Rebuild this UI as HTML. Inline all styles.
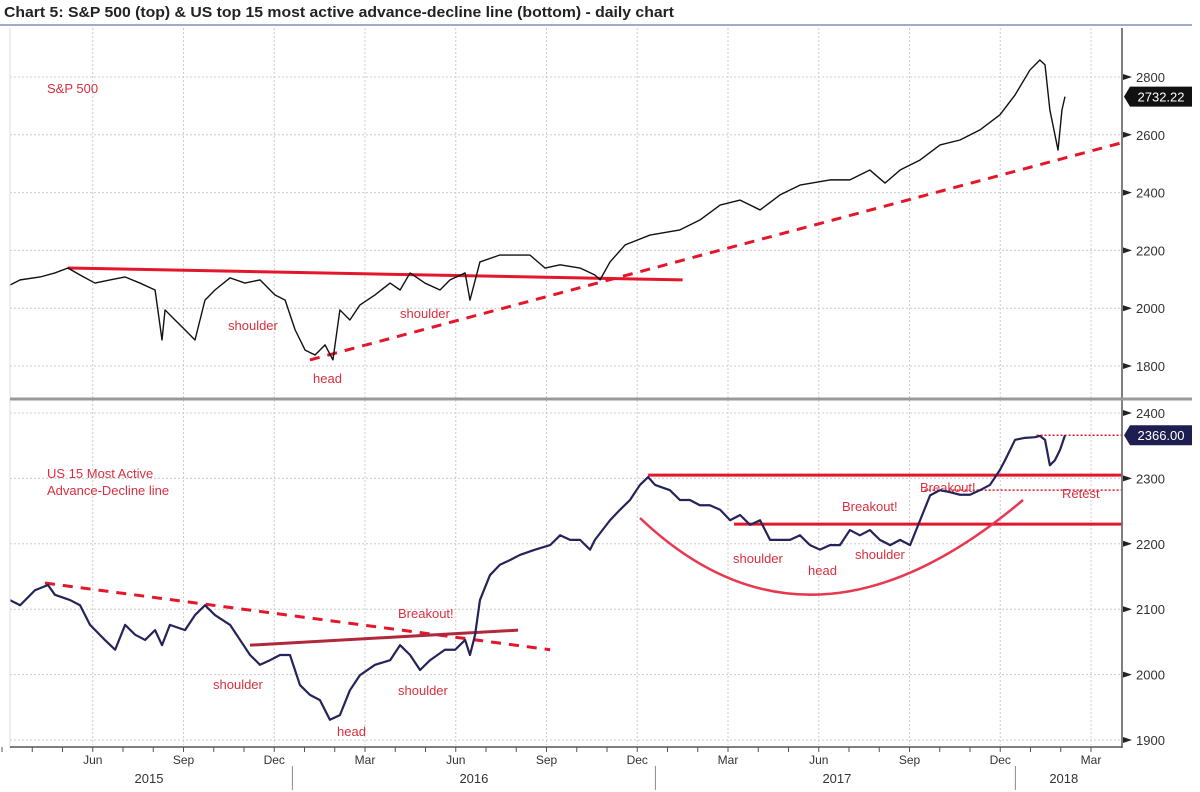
<!DOCTYPE html>
<html><head><meta charset="utf-8"><style>
body{margin:0;background:#fff;font-family:"Liberation Sans",sans-serif}
svg{display:block}
</style></head><body>
<svg id="c" width="1200" height="792" xmlns="http://www.w3.org/2000/svg">
<text x="4" y="17" font-size="15" font-weight="bold" fill="#222" textLength="670" lengthAdjust="spacingAndGlyphs">Chart 5: S&amp;P 500 (top) &amp; US top 15 most active advance-decline line (bottom) - daily chart</text>
<line x1="0" y1="25" x2="1192" y2="25" stroke="#8090b0" stroke-width="1.5"/>
<g id="grid"></g><g id="ann"></g><g id="series"></g><g id="axes"></g>
</svg>
<script>
// months since 1 Mar 2015
const spxMonths=[0.26,0.6,1.26,1.75,2.18,2.58,3.07,3.57,4.07,4.56,5.06,5.29,5.39,5.72,6.05,6.38,6.71,7.04,7.54,8.03,8.53,9.02,9.36,9.69,10.02,10.35,10.68,10.94,11.17,11.5,11.83,12.33,12.83,13.16,13.49,13.98,14.48,14.81,15.31,15.47,15.8,16.46,17.45,17.95,18.45,19.11,19.6,19.77,20.1,20.6,21.42,22.41,23.07,23.74,24.4,25.06,25.72,26.38,27.37,28.03,28.69,29.19,29.69,30.35,31.01,31.67,32.33,32.99,33.49,33.98,34.31,34.48,34.64,34.81,34.91,35.04,35.14];
const spxValues=[2080,2098,2108,2122,2139,2115,2087,2098,2108,2087,2063,1890,1994,1959,1925,1890,2028,2063,2105,2087,2098,2046,2028,1925,1855,1838,1873,1821,1994,1959,2011,2046,2087,2063,2122,2087,2063,2098,2122,2028,2160,2184,2184,2139,2150,2139,2115,2098,2160,2219,2253,2271,2305,2357,2374,2340,2392,2426,2444,2444,2478,2433,2478,2513,2565,2582,2617,2669,2738,2824,2859,2842,2686,2599,2547,2686,2732];
const adMonths=[0.26,0.6,1.09,1.52,1.75,2.25,2.58,2.91,3.4,3.74,4.07,4.4,4.73,5.06,5.29,5.55,6.05,6.38,6.71,7.04,7.54,7.87,8.2,8.53,8.86,9.19,9.52,9.85,10.18,10.51,10.84,11.17,11.5,11.83,12.33,12.83,13.16,13.49,13.82,14.15,14.64,14.98,15.31,15.47,15.64,15.8,16.13,16.46,16.79,17.12,17.62,18.12,18.45,18.78,19.11,19.44,19.6,20.1,20.43,20.76,21.09,21.36,21.59,22.08,22.41,22.74,23.07,23.4,23.74,24.07,24.4,24.73,25.06,25.39,25.72,26.05,26.38,26.71,27.04,27.37,27.7,28.03,28.36,28.69,29.02,29.36,29.69,30.02,30.35,30.68,31.01,31.34,31.67,32.0,32.33,32.66,32.99,33.16,33.49,33.82,34.15,34.31,34.48,34.64,34.81,34.98,35.14];
const adValues=[2114,2106,2129,2137,2122,2114,2106,2076,2053,2038,2076,2061,2053,2068,2045,2076,2068,2091,2106,2091,2076,2053,2030,2015,2022,2030,2030,1984,1969,1961,1931,1938,1976,1999,2015,2022,2045,2030,2007,2022,2038,2038,2053,2030,2061,2114,2152,2168,2175,2183,2191,2198,2213,2206,2206,2191,2206,2236,2252,2267,2290,2302,2290,2282,2267,2267,2259,2259,2252,2236,2244,2229,2236,2206,2206,2206,2213,2198,2191,2198,2198,2221,2213,2221,2206,2198,2206,2198,2236,2274,2282,2279,2275,2275,2282,2290,2313,2328,2359,2362,2363,2365,2359,2320,2328,2344,2366];
const topTicks=[1800,2000,2200,2400,2600,2800];
const botTicks=[1900,2000,2100,2200,2300,2400];
const monthLabels=["Jun","Sep","Dec","Mar","Jun","Sep","Dec","Mar","Jun","Sep","Dec","Mar"];
const monthLabelIdx=[3,6,9,12,15,18,21,24,27,30,33,36];
const yearLabels=["2015","2016","2017","2018"];
const yearMid=[4.86,15.6,27.6,35.1];
const yearStarts=[9.6,21.6,33.5];

const NS="http://www.w3.org/2000/svg";
const X0=10,X1=1122;
const x=m=>2+m*30.25;
const yTop=v=>77+(2800-v)*0.289;
const yBot=v=>413+(2400-v)*0.654;
function mk(tag,attrs,parent){const e=document.createElementNS(NS,tag);for(const k in attrs)e.setAttribute(k,attrs[k]);document.getElementById(parent).appendChild(e);return e;}
monthLabelIdx.forEach(m=>{
  const g=mk('line',{x1:x(m),x2:x(m),y1:28,y2:745,stroke:'#ccc','stroke-dasharray':'2,2'},'grid');
  
  
});
topTicks.forEach(v=>{
  const g=mk('line',{x1:X0,x2:X1,y1:yTop(v),y2:yTop(v),stroke:'#ccc','stroke-dasharray':'2,2'},'grid');
  
  
  const t=mk('text',{x:1136,y:yTop(v)+5,'font-size':13,fill:'#333'},'axes');t.textContent=v;
  
  
  mk('path',{d:`M1123 ${yTop(v)-3}L1132 ${yTop(v)}L1123 ${yTop(v)+3}Z`,fill:'#222'},'axes');
});
botTicks.forEach(v=>{
  const g=mk('line',{x1:X0,x2:X1,y1:yBot(v),y2:yBot(v),stroke:'#ccc','stroke-dasharray':'2,2'},'grid');
  
  
  const t=mk('text',{x:1136,y:yBot(v)+5,'font-size':13,fill:'#333'},'axes');t.textContent=v;
  
  
  mk('path',{d:`M1123 ${yBot(v)-3}L1132 ${yBot(v)}L1123 ${yBot(v)+3}Z`,fill:'#222'},'axes');
});
mk('line',{x1:X1,x2:X1,y1:28,y2:748,stroke:'#555','stroke-width':1.5},'axes');
mk('line',{x1:X0,x2:X0,y1:28,y2:748,stroke:'#ddd'},'axes');
mk('line',{x1:X0,x2:X1,y1:747,y2:747,stroke:'#555','stroke-width':1.5},'axes');
const div=mk('line',{x1:X0,x2:1192,y1:399,y2:399,stroke:'#999','stroke-width':3},'axes');


for(let m=0;m<=36;m++){mk('line',{x1:x(m),x2:x(m),y1:747,y2:752,stroke:'#555'},'axes');}
monthLabels.forEach((l,i)=>{
  const t=mk('text',{x:x(monthLabelIdx[i]),y:764,'font-size':12,fill:'#333','text-anchor':'middle'},'axes');t.textContent=l;
  
  
});
yearLabels.forEach((l,i)=>{
  const t=mk('text',{x:x(yearMid[i]),y:783,'font-size':13,fill:'#333','text-anchor':'middle'},'axes');t.textContent=l;
  
  
});
yearStarts.forEach(m=>{mk('line',{x1:x(m),x2:x(m),y1:766,y2:790,stroke:'#888'},'axes');});
const sp=mk('polyline',{points:spxMonths.map((m,i)=>x(m)+','+yTop(spxValues[i])).join(' '),fill:'none',stroke:'#111','stroke-width':1.4,'stroke-linejoin':'round'},'series');


const ad=mk('polyline',{points:adMonths.map((m,i)=>x(m)+','+yBot(adValues[i])).join(' '),fill:'none',stroke:'#25245a','stroke-width':2.2,'stroke-linejoin':'round'},'series');


const R='#e3162a';
function ln(m1,v1,m2,v2,f,attrs,name){const a=Object.assign({x1:x(m1),y1:f(v1),x2:x(m2),y2:f(v2),stroke:R,'stroke-width':3},attrs);const e=mk('line',a,'ann');}
ln(2.18,2139,22.5,2098,yTop,{},'top-neckline');
ln(10.18,1821,37,2572,yTop,{'stroke-dasharray':'10,8'},'top-trendline');
ln(1.42,2140,18.12,2038,yBot,{'stroke-dasharray':'10,8'},'bottom-downtrend');
ln(8.2,2045,17.06,2068,yBot,{stroke:'#b0283a','stroke-width':3},'bottom-neckline');
ln(21.36,2305,37,2305,yBot,{},'resistance-2305');
ln(24.2,2230,37,2230,yBot,{},'resistance-2230');
ln(30.5,2282,37,2282,yBot,{'stroke-width':1.5,'stroke-dasharray':'2,2'},'retest-level');
ln(34.2,2366,37,2366,yBot,{'stroke-width':1.5,'stroke-dasharray':'2,2'},'last-level');
const arc=mk('path',{d:`M640 518 Q810 680 1023 500`,fill:'none',stroke:'#e8384f','stroke-width':2.5},'ann');


const labels=[["S&P 500",47,93,"sp500-label"],["US 15 Most Active",47,478,"ad-label-1"],["Advance-Decline line",47,495,"ad-label-2"],
["shoulder",228,330,"top-left-shoulder"],["head",313,383,"top-head"],["shoulder",400,318,"top-right-shoulder"],
["shoulder",213,689,"bot-left-shoulder"],["head",337,736,"bot-head"],["shoulder",398,695,"bot-right-shoulder"],["Breakout!",398,618,"breakout-1"],
["shoulder",733,563,"cup-left-shoulder"],["head",808,575,"cup-head"],["shoulder",855,559,"cup-right-shoulder"],["Breakout!",842,511,"breakout-2"],["Breakout!",920,492,"breakout-3"],["Retest",1062,498,"retest-label"]];
labels.forEach(l=>{const t=mk('text',{x:l[1],y:l[2],'font-size':13,fill:'#d8303f'},'ann');t.textContent=l[0];
  
  });
function tag(yv,txt,bg,name){const y=yv;mk('path',{d:`M1124 ${y}L1130 ${y-10}L1192 ${y-10}L1192 ${y+10}L1130 ${y+10}Z`,fill:bg},'axes');
 const t=mk('text',{x:1161,y:y+5,'font-size':13,fill:'#fff','text-anchor':'middle'},'axes');t.textContent=txt;
 
 }
tag(yTop(spxValues[spxValues.length-1]),"2732.22","#111","sp500-last-tag");
tag(yBot(adValues[adValues.length-1]),"2366.00","#1e1e50","ad-last-tag");
</script>
</body></html>
